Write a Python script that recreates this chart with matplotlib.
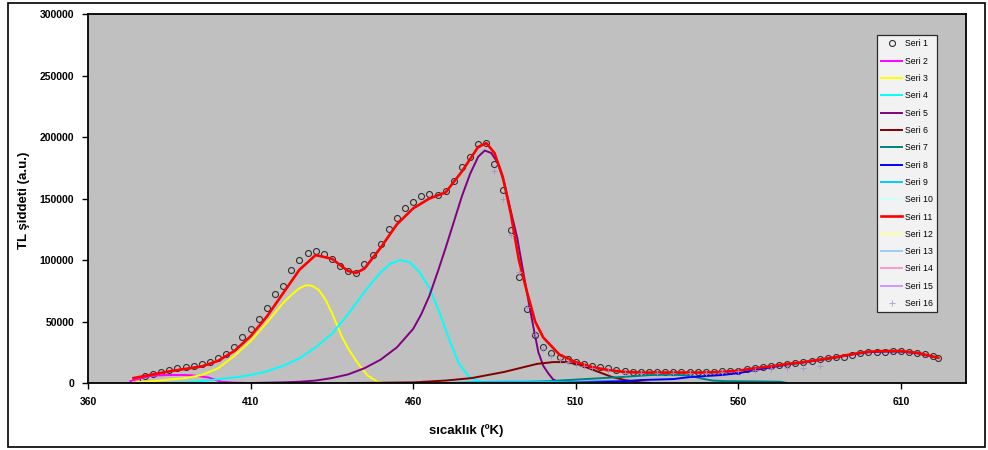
import matplotlib
matplotlib.use('Agg')
import matplotlib.pyplot as plt
from matplotlib.patches import Rectangle

plt.rcParams['font.family'] = ['Liberation Sans', 'DejaVu Sans']
plt.rcParams['font.weight'] = 'bold'

#################################################
# Data.

# Seri 1: measured glow curve (circles)
t_meas = [375, 377.5, 380, 382.5, 385, 387.5, 390, 392.5, 395, 397.5,
          400, 402.5, 405, 407.5, 410, 412.5, 415, 417.5, 420, 422.5,
          425, 427.5, 430, 432.5, 435, 437.5, 440, 442.5, 445, 447.5,
          450, 452.5, 455, 457.5, 460, 462.5, 465, 467.5, 470, 472.5,
          475, 477.5, 480, 482.5, 485, 487.5, 490, 492.5, 495, 497.5,
          500, 502.5, 505, 507.5, 510, 512.5, 515, 517.5, 520, 522.5,
          525, 527.5, 530, 532.5, 535, 537.5, 540, 542.5, 545, 547.5,
          550, 552.5, 555, 557.5, 560, 562.5, 565, 567.5, 570, 572.5,
          575, 577.5, 580, 582.5, 585, 587.5, 590, 592.5, 595, 597.5,
          600, 602.5, 605, 607.5, 610, 612.5, 615, 617.5, 620, 621.5]
i_meas = [2500, 5500, 7500, 9000, 10800, 12000, 12800, 14000, 15200, 17000,
          20000, 23500, 29000, 37000, 44000, 52000, 61000, 72000, 79000, 92000,
          100000, 105500, 107000, 104500, 101000, 95500, 91000, 89500, 96500, 104000,
          113000, 125000, 134000, 142000, 147000, 152000, 154000, 153000, 156000, 164000,
          176000, 184000, 194000, 195000, 178000, 157000, 124000, 86000, 60000, 39000,
          29000, 24000, 21000, 19500, 17000, 15500, 14000, 12800, 12000, 10800,
          9500, 9200, 9000, 9100, 9000, 9200, 9100, 9000, 9200, 9100,
          9300, 9200, 9400, 9600, 10000, 11000, 12000, 13000, 14000, 15000,
          15800, 16300, 17000, 18000, 19500, 20000, 20800, 21500, 22500, 24000,
          25000, 25200, 25500, 25800, 26000, 25000, 24000, 23200, 21800, 20500]

# Seri 11: total fit (red)
t_fit = [374, 380, 385, 390, 395, 400, 405, 410, 415, 420, 425, 430, 435,
         440, 442.5, 445, 450, 455, 460, 465, 470, 475, 480, 482.5, 485,
         487.5, 490, 492.5, 495, 497.5, 500, 505, 510, 515, 520, 525, 530,
         540, 550, 555, 560, 565, 570, 575, 580, 585, 590, 595, 600, 605,
         610, 615, 620, 621.5]
i_fit = [4000, 7000, 9500, 11500, 13500, 18000, 26000, 38000, 54000, 73000, 92000, 104000, 101000,
         91000, 89500, 93000, 110000, 129000, 142000, 150000, 155000, 172000, 192000, 195000, 187000,
         168000, 138000, 100000, 74000, 50000, 37000, 23000, 17000, 13000, 10500, 9000, 8500,
         8500, 8500, 9000, 10000, 12000, 13500, 15500, 17000, 19000, 21000, 23500, 25500, 26000,
         26000, 24500, 21500, 20500]

# fitted components
t_s2 = [373, 377, 380, 385, 390, 393, 397, 401, 405, 409]
i_s2 = [1500, 4500, 6000, 6500, 6500, 6000, 4500, 1000, 300, 0]

t_s3 = [374, 380, 385, 390, 395, 400, 405, 410, 415, 420, 422.5, 425, 427,
        429, 431, 433, 435, 438, 440, 443, 446, 449, 451]
i_s3 = [500, 1500, 2800, 4000, 6500, 12000, 22000, 34000, 49000, 65000, 71500, 77000, 79500,
        79000, 75500, 68000, 57000, 38000, 28000, 16000, 6000, 1000, 0]

t_s4 = [385, 390, 395, 400, 405, 410, 415, 420, 425, 430, 435, 440, 445,
        450, 453, 456, 459, 462, 465, 468, 471, 474, 477, 480, 483]
i_s4 = [0, 500, 1500, 3000, 4500, 6500, 9500, 14000, 20000, 29000, 40000, 56000, 74000,
        90000, 97000, 100000, 98000, 90000, 77000, 58000, 36000, 16000, 5500, 1500, 300]

t_s5 = [410, 420, 425, 430, 435, 440, 445, 450, 455, 460, 462.5, 465, 467.5,
        470, 472.5, 475, 477.5, 480, 482, 484, 486, 488, 490, 492, 494,
        495.5, 497, 498.5, 500, 501.5, 503, 505]
i_s5 = [0, 500, 1000, 2000, 4000, 7000, 12000, 19000, 29000, 44000, 56000, 71000, 90000,
        110000, 131000, 152000, 170000, 184000, 189000, 187000, 179000, 163000, 140000, 118000, 88000,
        66000, 45000, 25000, 14000, 8000, 3000, 500]

t_s6 = [440, 450, 460, 470, 478, 488, 498, 503, 507, 510, 513, 517, 521, 525, 530, 533]
i_s6 = [0, 200, 500, 2000, 4000, 9000, 15500, 17000, 17000, 15500, 13000, 9000, 5000, 2400, 500, 0]

t_s7 = [475, 490, 502, 515, 525, 533, 540, 545, 549, 552, 556, 565, 573, 575]
i_s7 = [0, 500, 1500, 3500, 5000, 6500, 6800, 6000, 3500, 2000, 1500, 1300, 1000, 0]

t_s8 = [485, 495, 510, 525, 530, 540, 545, 555, 560, 565, 570, 575, 580,
        585, 590, 595, 600, 605, 610, 615, 620]
i_s8 = [0, 300, 700, 1500, 2400, 3200, 4800, 6500, 8000, 10500, 12800, 15000, 16700,
        18700, 20700, 23200, 25000, 25600, 25600, 24200, 21200]

t_s9 = [470, 480, 490, 500, 510, 520]
i_s9 = [0, 800, 1200, 1000, 500, 0]

# Seri 16 (faint plus markers)
t_s16 = [485, 487.5, 490, 492.5, 495, 497.5, 500, 502.5, 505, 507.5, 510, 512.5,
         515, 520, 525, 530, 535, 540, 545, 550, 555, 560, 565, 570, 575, 580, 585]
i_s16 = [172000, 150000, 120000, 90000, 62000, 40000, 28000, 22000, 19000, 17000, 15000, 13500,
         12000, 10000, 8500, 8000, 8000, 8200, 8300, 8500, 9000, 9800, 10500, 11500, 12000, 12500, 13500]

components = [
    ('Seri 2', t_s2, i_s2, '#ff00ff'),
    ('Seri 3', t_s3, i_s3, '#ffff00'),
    ('Seri 4', t_s4, i_s4, '#00ffff'),
    ('Seri 5', t_s5, i_s5, '#800080'),
    ('Seri 6', t_s6, i_s6, '#800000'),
    ('Seri 7', t_s7, i_s7, '#008080'),
    ('Seri 8', t_s8, i_s8, '#0000ff'),
    ('Seri 9', t_s9, i_s9, '#00ccff'),
    ('Seri 10', [], [], '#ccffff'),
]
empty_series = [
    ('Seri 12', '#ffff99'),
    ('Seri 13', '#99ccff'),
    ('Seri 14', '#ff99cc'),
    ('Seri 15', '#cc99ff'),
]

x_ticks = [360, 410, 460, 510, 560, 610]
y_ticks = [0, 50000, 100000, 150000, 200000, 250000, 300000]

#################################################
# Display.
fig = plt.figure(figsize=(9.88, 4.5), dpi=100)
fig.patch.set_facecolor('white')
fig.patches.append(Rectangle((8 / 988, 3 / 450), 977 / 988, 444 / 450,
                             transform=fig.transFigure, fill=False,
                             edgecolor='black', linewidth=1.2))

ax = fig.add_axes([88 / 988, 1 - 383 / 450, 878 / 988, 369 / 450])
ax.set_facecolor('#c0c0c0')

ax.plot(t_meas, i_meas, linestyle='none', marker='o', markersize=4.3,
        markerfacecolor='none', markeredgecolor='#303030',
        markeredgewidth=0.8, label='Seri 1')
for name, tt, ii, col in components:
    ax.plot(tt, ii, color=col, linewidth=1.4, label=name)
ax.plot(t_fit, i_fit, color='#ff0000', linewidth=1.9, label='Seri 11')
for name, col in empty_series:
    ax.plot([], [], color=col, linewidth=1.4, label=name)
ax.plot(t_s16, i_s16, linestyle='none', marker='+', markersize=5,
        color='#a890c8', markeredgewidth=0.7, alpha=0.8, label='Seri 16')

ax.set_xlim(360, 630)
ax.set_ylim(0, 300000)
ax.set_xticks(x_ticks)
ax.set_yticks(y_ticks)
ax.tick_params(axis='both', direction='out', length=4, width=1,
               labelsize=7.5, pad=6)
for lab in ax.get_xticklabels() + ax.get_yticklabels():
    lab.set_fontweight('bold')
for sp in ax.spines.values():
    sp.set_linewidth(1.3)

ax.set_ylabel('TL şiddeti (a.u.)', fontsize=9.5, fontweight='bold')
ax.yaxis.set_label_coords(-0.066, 0.496)
ax.set_xlabel('sıcaklık (ºK)', fontsize=9.5, fontweight='bold')
ax.xaxis.set_label_coords(0.4305, -0.111)

leg = ax.legend(loc='upper left', bbox_to_anchor=(0.8986, 0.943),
                fontsize=6.3, frameon=True, fancybox=False,
                handlelength=2.4, handletextpad=0.3, labelspacing=0.95,
                borderpad=0.5, borderaxespad=0)
leg.get_frame().set_edgecolor('black')
leg.get_frame().set_linewidth(0.9)
leg.get_frame().set_facecolor('white')
for txt in leg.get_texts():
    txt.set_fontweight('normal')

fig.savefig('out.png', dpi=100)
